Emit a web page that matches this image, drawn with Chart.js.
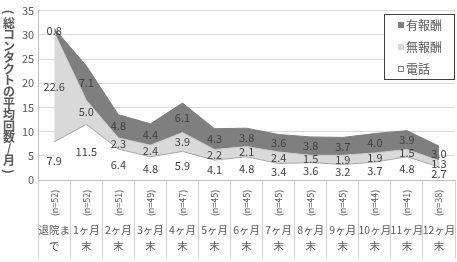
<!DOCTYPE html>
<html>
<head>
<meta charset="utf-8">
<script src="https://cdn.jsdelivr.net/npm/chart.js@4/dist/chart.umd.min.js"></script>
<style>
  body { margin: 0; background: #fff; }
  #wrap { width: 457px; height: 262px; }
</style>
</head>
<body>
<div id="wrap"><canvas id="contactChart"></canvas></div>
<script>
// Data
const periods = ["退院ま|で", "1ヶ月|末", "2ヶ月|末", "3ヶ月|末", "4ヶ月|末", "5ヶ月|末", "6ヶ月|末",
  "7ヶ月|末", "8ヶ月|末", "9ヶ月|末", "10ヶ月|末", "11ヶ月|末", "12ヶ月|末"];
const sampleSizes = ["(n=52)", "(n=52)", "(n=51)", "(n=49)", "(n=47)", "(n=45)", "(n=45)",
  "(n=45)", "(n=45)", "(n=45)", "(n=44)", "(n=41)", "(n=38)"];
const phone = [7.9, 11.5, 6.4, 4.8, 5.9, 4.1, 4.8, 3.4, 3.6, 3.2, 3.7, 4.8, 2.7];
const unpaid = [22.6, 5.0, 2.3, 2.4, 3.9, 2.2, 2.1, 2.4, 1.5, 1.9, 1.9, 1.5, 1.3];
const paid = [0.8, 7.1, 4.8, 4.4, 6.1, 4.3, 3.8, 3.6, 3.8, 3.7, 4.0, 3.9, 3.0];
const yTitle = "(総コンタクトの平均回数/月)";

const textColor = "#595959";
const font = "'Noto Sans CJK JP', 'DejaVu Sans', sans-serif";

// Value labels in the middle of each band
const bandLabels = {
  id: "bandLabels",
  afterDatasetsDraw(chart) {
    const c = chart.ctx;
    const y = chart.scales.y;
    c.save();
    c.font = "11px " + font;
    c.fillStyle = "#404040";
    c.textAlign = "center";
    c.textBaseline = "middle";
    const base = new Array(periods.length).fill(0);
    chart.data.datasets.forEach((ds, di) => {
      const meta = chart.getDatasetMeta(di);
      ds.data.forEach((v, i) => {
        const mid = y.getPixelForValue(base[i] + v / 2);
        c.fillText(v.toFixed(1), meta.data[i].x, mid);
        base[i] += v;
      });
    });
    c.restore();
  }
};

// Category labels: rotated sample size + two-line period name
const xLabels = {
  id: "xLabels",
  afterDraw(chart) {
    const c = chart.ctx;
    const x = chart.scales.x;
    const top = chart.chartArea.bottom;
    c.save();
    c.fillStyle = textColor;
    periods.forEach((p, i) => {
      const px = x.getPixelForValue(i);
      c.save();
      c.translate(px, top + 23);
      c.rotate(-Math.PI / 2);
      c.font = "9px " + font;
      c.textAlign = "center";
      c.textBaseline = "middle";
      c.fillText(sampleSizes[i], 0, 0);
      c.restore();
      c.font = "10.5px " + font;
      c.textAlign = "center";
      c.textBaseline = "middle";
      const parts = p.split("|");
      c.fillText(parts[0], px, top + 50);
      c.fillText(parts[1], px, top + 66);
    });
    c.restore();
  }
};

// Vertical y-axis title
const yTitleV = {
  id: "yTitleV",
  afterDraw(chart) {
    const c = chart.ctx;
    const chars = [...yTitle];
    const step = 11.4;
    const startY = 12;
    c.save();
    c.fillStyle = textColor;
    c.font = "bold 12px " + font;
    c.textAlign = "center";
    c.textBaseline = "middle";
    chars.forEach((ch, i) => {
      const cy = startY + i * step;
      if (ch === "(" || ch === ")") {
        c.save();
        c.translate(9, cy);
        c.rotate(Math.PI / 2);
        c.fillText(ch, 0, 0);
        c.restore();
      } else {
        c.fillText(ch, 9, cy);
      }
    });
    c.restore();
  }
};

// Boxed legend inside the plot (reverse stack order)
const boxLegend = {
  id: "boxLegend",
  afterDraw(chart) {
    const c = chart.ctx;
    const left = 384, top = 14, w = 70, h = 65;
    c.save();
    c.fillStyle = "#fff";
    c.fillRect(left, top, w, h);
    c.strokeStyle = "#404040";
    c.lineWidth = 1;
    c.strokeRect(left + 0.5, top + 0.5, w, h);
    const items = chart.data.datasets.slice().reverse();
    c.font = "12px " + font;
    c.textBaseline = "middle";
    items.forEach((ds, i) => {
      const cy = top + 11 + i * 22;
      c.fillStyle = ds.backgroundColor;
      c.fillRect(398, cy - 3, 6, 6);
      if (ds.label === "電話") {
        c.strokeStyle = "#808080";
        c.strokeRect(398.5, cy - 2.5, 5, 5);
      }
      c.fillStyle = textColor;
      c.fillText(ds.label, 406, cy);
    });
    c.restore();
  }
};

const ctx = document.getElementById("contactChart").getContext("2d");
new Chart(ctx, {
  type: "line",
  data: {
    labels: periods,
    datasets: [
      { label: "電話", data: phone, backgroundColor: "#ffffff", borderColor: "#a6a6a6",
        borderWidth: 1, fill: "origin" },
      { label: "無報酬", data: unpaid, backgroundColor: "#d9d9d9", borderColor: "#c8c8c8",
        borderWidth: 1, fill: "-1" },
      { label: "有報酬", data: paid, backgroundColor: "#7f7f7f", borderColor: "#7f7f7f",
        borderWidth: 1, fill: "-1" }
    ]
  },
  options: {
    responsive: true,
    maintainAspectRatio: false,
    animation: false,
    layout: { padding: { left: 18, right: 2, top: 0, bottom: 4 } },
    elements: { point: { radius: 0 }, line: { tension: 0 } },
    plugins: { legend: { display: false }, tooltip: { enabled: false } },
    scales: {
      x: {
        offset: true,
        grid: { offset: true, drawOnChartArea: false, drawTicks: true, tickLength: 78, color: "#d0d0d0" },
        border: { color: "#bfbfbf" },
        ticks: { display: false }
      },
      y: {
        stacked: true,
        min: 0,
        max: 35,
        ticks: { stepSize: 5, color: textColor, font: { size: 11, family: font }, padding: 4 },
        grid: { color: "#d9d9d9", drawTicks: false },
        border: { color: "#bfbfbf" }
      }
    }
  },
  plugins: [bandLabels, xLabels, yTitleV, boxLegend]
});
</script>
</body>
</html>
